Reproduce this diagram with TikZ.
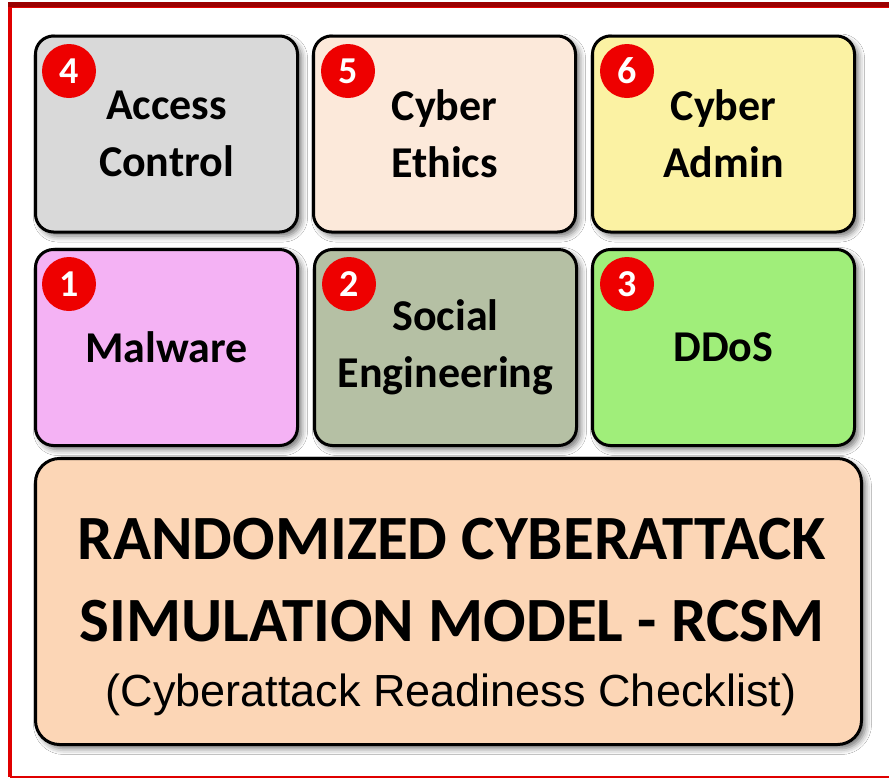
\documentclass[tikz,border=0pt]{standalone}
\usepackage{fontspec}
\setmainfont{Carlito}
\newfontfamily\arialfont{Liberation Sans}
\usetikzlibrary{shadows.blur}

\definecolor{framered}{HTML}{E00000}
\definecolor{framedark}{HTML}{9A0000}
\definecolor{badgered}{HTML}{EE0000}
\definecolor{tileaccess}{HTML}{D9D9D9}
\definecolor{tileethics}{HTML}{FCE9DA}
\definecolor{tileadmin}{HTML}{FBF2A3}
\definecolor{tilemalware}{HTML}{F4B2F4}
\definecolor{tilesocial}{HTML}{B5C0A4}
\definecolor{tileddos}{HTML}{A0EE7A}
\definecolor{tilemodel}{HTML}{FCD6B6}

\begin{document}
\begin{tikzpicture}[x=1pt,y=-1pt,
  tile/.style={draw=black, line width=3pt, rounded corners=18pt,
    blur shadow={shadow xshift=4pt, shadow yshift=-4pt,
      shadow blur radius=6pt, shadow opacity=55},
    minimum width=262pt, minimum height=196pt, inner sep=0pt,
    font=\fontsize{44}{57}\selectfont\bfseries, align=center},
  badge/.style={circle, fill=badgered, draw=none, minimum size=54pt,
    inner sep=0pt, text=white, font=\fontsize{38}{38}\selectfont\bfseries},
  title/.style={font=\fontsize{63}{82}\selectfont\bfseries, align=center,
    inner sep=0pt},
  subtitle/.style={font=\arialfont\fontsize{45}{45}\selectfont, inner sep=0pt}]

% canvas
\useasboundingbox (0,0) rectangle (889,780);
\fill[white] (0,0) rectangle (889,780);

% frame round the picture (open on the right)
\draw[framered, line width=4pt] (10,4) -- (10,777);
\draw[framered, line width=2pt] (10,777) -- (889,777);
\draw[framedark, line width=5pt] (8,4) -- (889,4);
\draw[framered, line width=1.5pt] (12,7.5) -- (889,7.5);

% upper row
\node[tile, fill=tileaccess] (access) at (166.5,134) {Access\\Control};
\node[tile, fill=tileethics] (ethics) at (444.5,134) {Cyber\\Ethics};
\node[tile, fill=tileadmin]  (admin)  at (723.5,134) {Cyber\\Admin};

% middle row
\node[tile, fill=tilemalware] (malware) at (166.5,347.5) {Malware};
\node[tile, fill=tilesocial]  (social)  at (445.5,347.5) {Social\\Engineering};
\node[tile, fill=tileddos]    (ddos)    at (723.5,347.5) {DDoS};

% numbered badges
\node[badge] (b4) at (69,71) {4};
\node[badge] (b5) at (348,71) {5};
\node[badge] (b6) at (627,71) {6};
\node[badge] (b1) at (69,284) {1};
\node[badge] (b2) at (349,284) {2};
\node[badge] (b3) at (627,284) {3};

% base block
\node[tile, fill=tilemodel, minimum width=826pt, minimum height=286pt,
  rounded corners=24pt] (model) at (448.5,601.5) {};
\node[title] (modeltitle) at (452,580)
  {RANDOMIZED CYBERATTACK\\SIMULATION MODEL - RCSM};
\node[subtitle] (modelsub) at (451,695) {(Cyberattack Readiness Checklist)};

\end{tikzpicture}
\end{document}
